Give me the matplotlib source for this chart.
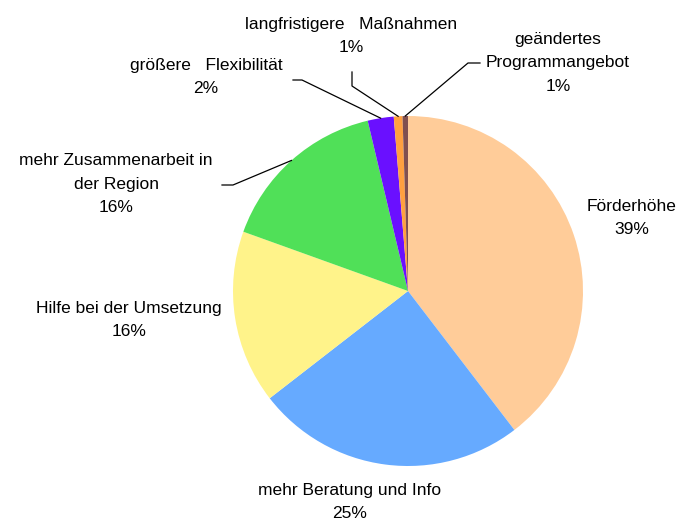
import numpy as np
import matplotlib
matplotlib.use('Agg')
import matplotlib.pyplot as plt

plt.rcParams['font.family'] = ['Liberation Sans', 'DejaVu Sans']

# Anteile (Prozent), im Uhrzeigersinn ab 12 Uhr
labels = ['Förderhöhe', 'mehr Beratung und Info', 'Hilfe bei der Umsetzung',
          'mehr Zusammenarbeit in\nder Region', 'größere   Flexibilität',
          'langfristigere   Maßnahmen', 'geändertes\nProgrammangebot']
values = [39.6, 24.9, 16.0, 15.8, 2.4, 0.8, 0.5]
pct_text = ['39%', '25%', '16%', '16%', '2%', '1%', '1%']
colors = ['#FFCC99', '#66AAFF', '#FFF38A', '#50E058', '#6A10FF', '#FFA040', '#805050']

# Layout in Pixelkoordinaten (y von unten)
W, H = 681, 521
cx, cy, r = 408, H - 291, 175
label_pos = [(632, H - 218), (350, H - 502), (129, H - 320), (116, H - 184),
             (206, H - 77), (351, H - 36), (558, H - 63)]
# Führungslinien: (Knickpunkt, Endpunkt des kurzen Stücks) für kleine Segmente
leaders = {3: [(222, H - 185), (233, H - 185)],
           4: [(293, H - 80), (302, H - 80)],
           5: [(352, H - 72), (352, H - 86)],
           6: [(480, H - 63), (468, H - 63)]}

fig = plt.figure(figsize=(W / 100, H / 100), dpi=100)
ax = fig.add_axes([0, 0, 1, 1])

wedges, _ = ax.pie(values, colors=colors, startangle=90, counterclock=False,
                   center=(cx, cy), radius=r, frame=True)
ax.set_xlim(0, W)
ax.set_ylim(0, H)
ax.set_aspect('equal')
ax.axis('off')

for i, (lab, pct) in enumerate(zip(labels, pct_text)):
    x, y = label_pos[i]
    ax.text(x, y, lab + '\n' + pct, ha='center', va='center', fontsize=12.5,
            linespacing=1.7, color='black')

for i, pts in leaders.items():
    w = wedges[i]
    ang = np.deg2rad((w.theta1 + w.theta2) / 2)
    ex, ey = cx + r * np.cos(ang), cy + r * np.sin(ang)
    xs = [pts[0][0], pts[1][0], ex]
    ys = [pts[0][1], pts[1][1], ey]
    ax.plot(xs, ys, color='black', lw=0.9)

fig.savefig('out.png', dpi=100)
